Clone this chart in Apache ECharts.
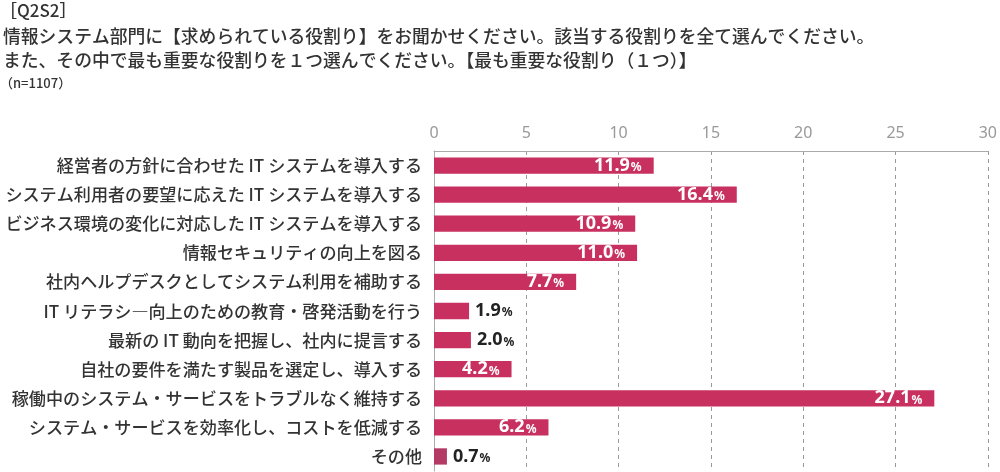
<!DOCTYPE html>
<html><head><meta charset="utf-8">
<script src="https://cdn.jsdelivr.net/npm/echarts@6/dist/echarts.min.js"></script>
<style>html,body{margin:0;padding:0;background:#fff}#c{width:1000px;height:472px}</style>
</head><body><div id="c"></div>
<script>
const categories = [
  '経営者の方針に合わせた IT システムを導入する',
  'システム利用者の要望に応えた IT システムを導入する',
  'ビジネス環境の変化に対応した IT システムを導入する',
  '情報セキュリティの向上を図る',
  '社内ヘルプデスクとしてシステム利用を補助する',
  'IT リテラシ―向上のための教育・啓発活動を行う',
  '最新の IT 動向を把握し、社内に提言する',
  '自社の要件を満たす製品を選定し、導入する',
  '稼働中のシステム・サービスをトラブルなく維持する',
  'システム・サービスを効率化し、コストを低減する',
  'その他'
];
const values = [11.9, 16.4, 10.9, 11.0, 7.7, 1.9, 2.0, 4.2, 27.1, 6.2, 0.7];
const xTicks = [0, 5, 10, 15, 20, 25, 30];
const titleLines = [
  '［Q2S2］',
  '情報システム部門に【求められている役割り】をお聞かせください。該当する役割りを全て選んでください。',
  'また、その中で最も重要な役割りを１つ選んでください。【最も重要な役割り（１つ）】'
];
const noteText = '（n=1107）';

const FONT = '"Noto Sans CJK JP", "Noto Sans", sans-serif';
const NUMFONT = '"Noto Sans", "Open Sans", sans-serif';
const chart = echarts.init(document.getElementById('c'), null, {renderer: 'canvas'});

const rich = {
  w: {color: '#fff', fontSize: 18, fontWeight: 'bold', fontFamily: NUMFONT},
  wp: {color: '#fff', fontSize: 12, fontWeight: 'bold', fontFamily: NUMFONT, padding: [4, 0, 0, 1]},
  d: {color: '#222', fontSize: 18, fontWeight: 'bold', fontFamily: NUMFONT},
  dp: {color: '#222', fontSize: 12, fontWeight: 'bold', fontFamily: NUMFONT, padding: [4, 0, 0, 1]}
};

const data = values.map(v => {
  const inside = v >= 3;
  return {
    value: v,
    itemStyle: {color: v < 1 ? '#B23A64' : '#C8305F'},
    label: inside ? {
      show: true, position: 'insideRight', distance: 12,
      formatter: p => '{w|' + p.value.toFixed(1) + '}{wp|%}'
    } : {
      show: true, position: 'right', distance: 6,
      formatter: p => '{d|' + p.value.toFixed(1) + '}{dp|%}'
    }
  };
});

chart.setOption({
  animation: false,
  backgroundColor: '#fff',
  graphic: [
    {type: 'text', left: 0, top: 2, style: {text: titleLines[0], font: '500 17px ' + FONT, fill: '#333'}},
    {type: 'text', left: 3, top: 27, style: {text: titleLines[1], font: '500 17.8px ' + FONT, fill: '#333'}},
    {type: 'text', left: 3, top: 51, style: {text: titleLines[2], font: '500 17.8px ' + FONT, fill: '#333'}},
    {type: 'text', left: 0, top: 77, style: {text: noteText, font: '500 13px ' + FONT, fill: '#333'}}
  ],
  grid: {left: 434, right: 10, top: 151, bottom: 1, containLabel: false},
  xAxis: {
    type: 'value', position: 'top', min: xTicks[0], max: xTicks[xTicks.length - 1], interval: 5,
    axisLine: {show: true, lineStyle: {color: '#aaa', width: 1}},
    axisTick: {show: false},
    axisLabel: {color: '#999', fontSize: 16, fontFamily: '"Noto Sans", sans-serif', margin: 10},
    splitLine: {show: true, lineStyle: {color: '#999', type: [4, 4], width: 1}}
  },
  yAxis: {
    type: 'category', data: categories, inverse: true,
    axisLine: {show: true, lineStyle: {color: '#aaa', width: 1}},
    axisTick: {show: false},
    axisLabel: {color: '#333', fontSize: 17.1, fontWeight: 500, fontFamily: FONT, margin: 12}
  },
  series: [{
    type: 'bar', data: data, barWidth: '56%',
    label: {rich: rich}
  }]
});
</script></body></html>
